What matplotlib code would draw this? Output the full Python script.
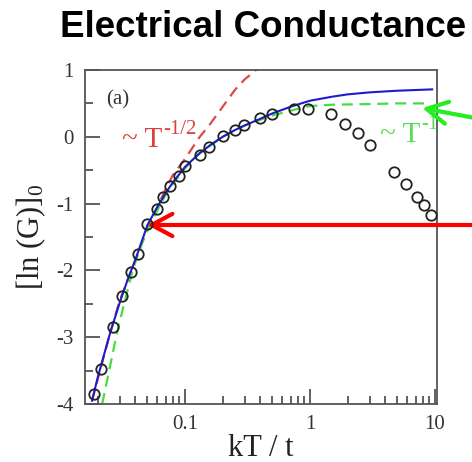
import matplotlib
matplotlib.use("Agg")
import matplotlib.pyplot as plt
from matplotlib.ticker import LogLocator, MultipleLocator, FixedLocator, NullFormatter

# circles: [ln G]_0
t_data = [0.0187, 0.0213, 0.0265, 0.0313, 0.037, 0.042, 0.0497, 0.0597, 0.0667,
          0.0759, 0.0895, 0.100, 0.132, 0.155, 0.2, 0.25, 0.297, 0.398, 0.497,
          0.745, 0.96, 1.47, 1.9, 2.42, 3.02, 4.7, 5.86, 7.2, 8.2, 9.3]
g_data = [-3.85, -3.47, -2.84, -2.38, -2.02, -1.75, -1.30, -1.08, -0.90,
          -0.73, -0.58, -0.43, -0.27, -0.15, 0.015, 0.10, 0.18, 0.28, 0.34,
          0.42, 0.42, 0.34, 0.19, 0.05, -0.12, -0.52, -0.71, -0.90, -1.02, -1.17]

# blue solid curve
t_blue = [0.018, 0.02, 0.025, 0.03, 0.035, 0.04, 0.05, 0.06, 0.07, 0.08, 0.1,
          0.13, 0.16, 0.2, 0.25, 0.3, 0.4, 0.5, 0.7, 0.85, 1.0, 1.5, 2.0, 3.0, 5.0, 7.0, 9.5]
g_blue = [-3.95, -3.6, -2.95, -2.48, -2.12, -1.84, -1.32, -1.05, -0.84, -0.68, -0.45,
          -0.25, -0.12, 0.0, 0.1, 0.17, 0.27, 0.35, 0.45, 0.50, 0.54, 0.60, 0.635, 0.665,
          0.69, 0.70, 0.71]

# red dashed  ~ T^-1/2
t_red = [0.018, 0.025, 0.03, 0.04, 0.05, 0.06, 0.07, 0.08, 0.1, 0.13, 0.16, 0.2, 0.25,
         0.3, 0.36, 0.38]
g_red = [-3.95, -2.95, -2.45, -1.85, -1.38, -1.05, -0.78, -0.57, -0.33, -0.01, 0.2, 0.45,
         0.70, 0.86, 0.98, 1.02]

# green dashed  ~ T^-1
t_green = [0.0217, 0.025, 0.028, 0.032, 0.038, 0.045, 0.05, 0.06, 0.07, 0.08, 0.1,
           0.13, 0.2, 0.3, 0.5, 0.8, 1.0, 1.5, 3.0, 5.0, 9.0]
g_green = [-4.0, -3.45, -3.0, -2.55, -2.0, -1.6, -1.4, -1.1, -0.87, -0.7, -0.47,
           -0.25, 0.0, 0.17, 0.32, 0.42, 0.46, 0.48, 0.49, 0.5, 0.5]

serif = ["Liberation Serif", "DejaVu Serif"]
plt.rcParams["axes.unicode_minus"] = False
plt.rcParams["mathtext.fontset"] = "custom"
plt.rcParams["mathtext.rm"] = "Liberation Serif"
plt.rcParams["mathtext.it"] = "Liberation Serif:italic"
plt.rcParams["mathtext.default"] = "rm"

fig = plt.figure(figsize=(4.72, 4.62), dpi=100)
ax = fig.add_axes([0.180, 0.1255, 0.746, 0.723])

ax.plot(t_red, g_red, color="#e04848", lw=1.6, ls=(0, (5, 3)), zorder=2)
ax.plot(t_green, g_green, color="#44dd44", lw=1.6, ls=(0, (5, 3)), zorder=2)
ax.plot(t_blue, g_blue, color="#1c1ccc", lw=1.5, zorder=3)
ax.plot(t_data, g_data, ls="none", marker="o", ms=7.5, mfc="none", mec="#222222",
        mew=1.3, zorder=4)

ax.set_xscale("log")
ax.set_xlim(0.0158, 10.4)
ax.set_ylim(-4, 1)

ax.xaxis.set_major_locator(FixedLocator([0.1, 1, 10]))
ax.xaxis.set_minor_locator(LogLocator(base=10, subs=range(2, 10), numticks=20))
ax.xaxis.set_minor_formatter(NullFormatter())
ax.set_xticklabels(["0.1", "1", "10"])
ax.yaxis.set_major_locator(MultipleLocator(1))
ax.yaxis.set_minor_locator(MultipleLocator(0.5))

for s in ["top", "right", "left", "bottom"]:
    ax.spines[s].set_color("#555555")
    ax.spines[s].set_linewidth(1.3)
ax.tick_params(which="both", direction="in", top=False, right=False, color="#555555",
               width=1.3)
ax.tick_params(which="major", length=11, pad=8)
ax.tick_params(which="minor", length=6)
for lab in ax.get_xticklabels() + ax.get_yticklabels():
    lab.set_family(serif)
    lab.set_fontsize(15)
    lab.set_color("#333333")

ax.set_xlabel("kT / t", family=serif, fontsize=22, color="#222222", labelpad=0)
ax.set_ylabel("[ln (G)]$_0$", family=serif, fontsize=22, color="#222222", labelpad=6)

ax.text(0.06, 0.91, "(a)", transform=ax.transAxes, family=serif, fontsize=15,
        color="#333333", va="center", ha="left")

# power-law labels: superscripts as separate texts so the hyphen stays a hyphen
red_lbl = ax.text(0.105, 0.769, "~ T", transform=ax.transAxes, family=serif, fontsize=21,
                  color="#dd4040", va="baseline", ha="left")
ax.annotate("-1/2", xy=(1.0, 1.0), xycoords=red_lbl, xytext=(1, -5),
            textcoords="offset points", family=serif, fontsize=15, color="#dd4040",
            va="baseline", ha="left")
green_lbl = ax.text(0.838, 0.784, "~ T", transform=ax.transAxes, family=serif, fontsize=21,
                    color="#55dd55", va="baseline", ha="left", clip_on=True)
ax.annotate("-1", xy=(1.0, 1.0), xycoords=green_lbl, xytext=(1, -5),
            textcoords="offset points", family=serif, fontsize=15, color="#55dd55",
            va="baseline", ha="left", annotation_clip=False, clip_on=True)

fig.text(263 / 472, 1 - 37 / 462, "Electrical Conductance",
         family=["Liberation Sans", "DejaVu Sans"],
         fontweight="bold", fontsize=26.5, ha="center", va="baseline")

# arrows from the right border
ax.annotate("", xy=(0.0497, -1.32), xycoords="data",
            xytext=(1.02, -1.32), textcoords=("figure fraction", "data"),
            arrowprops=dict(arrowstyle="->,head_length=0.75,head_width=0.4",
                            color="#ff0000", lw=3, mutation_scale=20,
                            shrinkA=0, shrinkB=0),
            annotation_clip=False)
ax.annotate("", xy=(7.9, 0.43), xycoords="data",
            xytext=(1.02, 0.742), textcoords="figure fraction",
            arrowprops=dict(arrowstyle="->,head_length=0.75,head_width=0.4",
                            color="#22ee22", lw=3, mutation_scale=20,
                            shrinkA=0, shrinkB=0),
            annotation_clip=False, zorder=6)

fig.savefig("out.png", dpi=100)
